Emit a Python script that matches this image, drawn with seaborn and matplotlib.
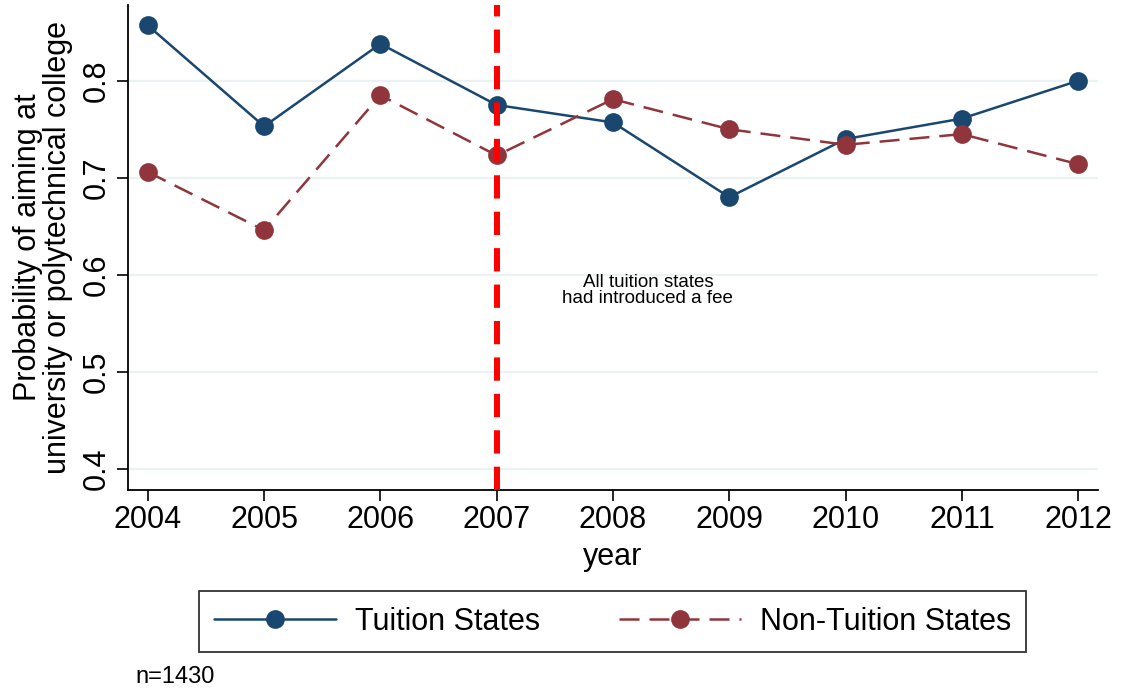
import matplotlib
matplotlib.use("Agg")
import matplotlib.pyplot as plt
import seaborn as sns
import pandas as pd
from matplotlib.lines import Line2D

years = [2004, 2005, 2006, 2007, 2008, 2009, 2010, 2011, 2012]
tuition = [0.857, 0.753, 0.838, 0.775, 0.757, 0.680, 0.740, 0.761, 0.800]
non_tuition = [0.706, 0.646, 0.785, 0.723, 0.781, 0.750, 0.734, 0.745, 0.714]
series_names = ["Tuition States", "Non-Tuition States"]
y_ticks = [0.4, 0.5, 0.6, 0.7, 0.8]
reform_year = 2007

sns.set_theme(style="white")
plt.rcParams['font.family'] = ['Liberation Sans', 'DejaVu Sans']
plt.rcParams['text.color'] = 'black'

navy = "#1a476f"
maroon = "#90353b"

fig = plt.figure(figsize=(11.23, 6.90), dpi=100)
ax = fig.add_axes([128/1123, 1-490/690, (1098-128)/1123, (490-5)/690])

df_t = pd.DataFrame({"year": years, "p": tuition})
df_n = pd.DataFrame({"year": years, "p": non_tuition})

for yv in y_ticks:
    ax.axhline(yv, color="#eaf2f3", lw=1.6, zorder=0)

sns.lineplot(data=df_t, x="year", y="p", ax=ax, color=navy, lw=1.8,
             marker="o", markersize=13.5, markeredgecolor=navy, markeredgewidth=0,
             zorder=3, label=series_names[0])
sns.lineplot(data=df_n, x="year", y="p", ax=ax, color=maroon, lw=1.8,
             marker="o", markersize=13.5, markeredgecolor=maroon, markeredgewidth=0,
             zorder=3, label=series_names[1])
ax.lines[-1].set_dashes((8, 4))

ax.axvline(reform_year, color="#ff0000", lw=4.3, dashes=(3.9, 2.2), zorder=4)

ax.text(2008.3, 0.584, "All tuition states\nhad introduced a fee", ha="center", va="center",
        fontsize=13.5, color="black", linespacing=0.95)

ax.set_xlim(2003.83, 2012.17)
ax.set_ylim(0.3784, 0.878)
ax.set_xticks(years)
ax.set_xticklabels([str(y) for y in years])
ax.set_yticks(y_ticks)
ax.set_yticklabels([f"{v:.1f}" for v in y_ticks], rotation=90, va="center")

ax.tick_params(axis="both", which="both", direction="out", length=8, width=1.2,
               color="black", labelsize=22, labelcolor="black", bottom=True, left=True)
ax.tick_params(axis="x", pad=3)
ax.tick_params(axis="y", pad=4)

for s in ["top", "right"]:
    ax.spines[s].set_visible(False)
for s in ["left", "bottom"]:
    ax.spines[s].set_color("black")
    ax.spines[s].set_linewidth(1.3)

ax.set_xlabel("year", fontsize=22, color="black", labelpad=5)
ax.set_ylabel("Probability of aiming at\nuniversity or polytechnical college", fontsize=22,
              color="black", labelpad=6, linespacing=1.0)

if ax.get_legend() is not None:
    ax.get_legend().remove()

handles = [
    Line2D([], [], color=navy, lw=1.8, marker="o", markersize=13.5, markeredgewidth=0),
    Line2D([], [], color=maroon, lw=1.8, marker="o", markersize=13.5, markeredgewidth=0,
           dashes=(8, 4)),
]
leg = fig.legend(handles, series_names, loc="center", bbox_to_anchor=(612.5/1123, 1-621.5/690),
                 ncol=2, fontsize=22, frameon=True, fancybox=False, edgecolor="black",
                 handlelength=4.0, handletextpad=0.6, columnspacing=2.6,
                 borderpad=0.5, borderaxespad=0, labelcolor="black")
leg.get_frame().set_linewidth(1.3)

fig.text(135/1123, 1-677/690, "n=1430", fontsize=17, color="black", ha="left", va="center")

fig.savefig("out.png", dpi=100, facecolor="white")
